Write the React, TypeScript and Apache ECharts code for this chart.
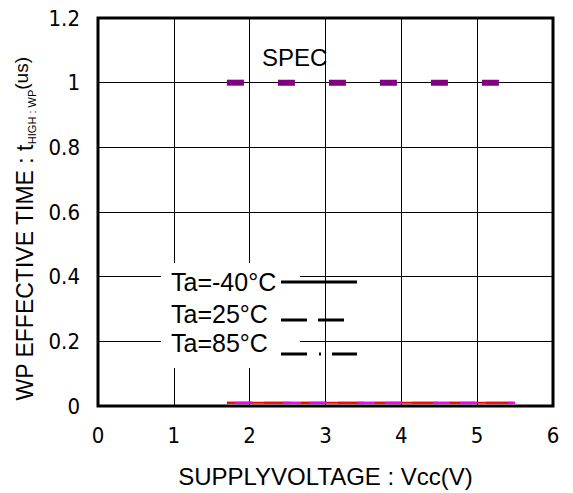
import React, { useEffect, useRef } from "react";
import * as echarts from "echarts";

const voltage = [1.7, 2.0, 2.5, 3.0, 3.5, 4.0, 4.5, 5.0, 5.5];
const timeM40 = [0.01, 0.01, 0.01, 0.01, 0.01, 0.01, 0.01, 0.01, 0.01];
const time25 = [0.01, 0.01, 0.01, 0.01, 0.01, 0.01, 0.01, 0.01, 0.01];
const time85 = [0.01, 0.01, 0.01, 0.01, 0.01, 0.01, 0.01, 0.01, 0.01];
const specVoltage = [1.7, 5.5];
const specTime = [1, 1];
const legendLabels = ["Ta=-40°C", "Ta=25°C", "Ta=85°C"];
const specLabel = "SPEC";
const xTitle = "SUPPLYVOLTAGE : Vcc(V)";

const BIG = "'Liberation Sans', Arial, sans-serif";
const NARROW = "'Liberation Sans Narrow', 'DejaVu Sans Condensed', 'Liberation Sans', sans-serif";

export default function App() {
  const ref = useRef<HTMLDivElement>(null);
  useEffect(() => {
    if (!ref.current) return;
    const chart = echarts.init(ref.current, undefined, { renderer: "svg" });
    const pair = (xs: number[], ys: number[]) => xs.map((x, i) => [x, ys[i]]);
    const legendRows = [
      { y: 282, dash: null as number[] | null, x2: 357 },
      { y: 320, dash: [26, 11], x2: 345 },
      { y: 354, dash: [26, 12, 2, 11], x2: 357 },
    ];
    const textY = [282, 314, 343];
    chart.setOption({
      animation: false,
      backgroundColor: "#fff",
      grid: {
        left: 98,
        right: 20,
        top: 18,
        bottom: 85,
        show: true,
        borderColor: "#000",
        borderWidth: 3,
      },
      xAxis: {
        type: "value",
        min: 0,
        max: 6,
        interval: 1,
        axisLine: { show: false },
        axisTick: { show: false },
        splitLine: { lineStyle: { color: "#000", width: 1 } },
        axisLabel: { color: "#000", fontFamily: NARROW, fontSize: 22, margin: 18 },
        name: xTitle,
        nameLocation: "middle",
        nameGap: 58,
        nameTextStyle: { color: "#000", fontFamily: BIG, fontSize: 24 },
      },
      yAxis: {
        type: "value",
        min: 0,
        max: 1.2,
        interval: 0.2,
        axisLine: { show: false },
        axisTick: { show: false },
        splitLine: { lineStyle: { color: "#000", width: 1 } },
        axisLabel: { color: "#000", fontFamily: NARROW, fontSize: 22, margin: 18 },
        name: "WP EFFECTIVE TIME : t{sub|HIGH : WP}{sup|(us)}",
        nameLocation: "middle",
        nameGap: 60,
        nameTextStyle: {
          color: "#000",
          fontFamily: BIG,
          fontSize: 23,
          lineHeight: 26,
          padding: [0, 34, 0, 0],
          rich: {
            sub: { fontFamily: BIG, fontSize: 11, lineHeight: 11, verticalAlign: "bottom", color: "#000" },
            sup: { fontFamily: BIG, fontSize: 19, lineHeight: 20, verticalAlign: "top", color: "#000" },
          },
        },
      },
      series: [
        {
          name: "SPEC",
          type: "line",
          data: pair(specVoltage, specTime),
          symbol: "none",
          lineStyle: { color: "#800080", width: 6, type: [17, 34], cap: "butt" },
          z: 5,
        },
        {
          name: legendLabels[0],
          type: "line",
          data: pair(voltage, timeM40),
          symbol: "none",
          lineStyle: { color: "#ff0000", width: 2 },
          z: 3,
        },
        {
          name: legendLabels[1],
          type: "line",
          data: pair(voltage, time25),
          symbol: "none",
          lineStyle: { color: "#ff0000", width: 2, type: [26, 11] },
          z: 4,
        },
        {
          name: legendLabels[2],
          type: "line",
          data: pair(voltage, time85),
          symbol: "none",
          lineStyle: { color: "#ff00ff", width: 2, type: [17, 10, 17, 31], dashOffset: 19 },
          z: 5,
        },
      ],
      graphic: [
        {
          type: "rect",
          z: 50,
          shape: { x: 161, y: 263, width: 139, height: 105 },
          style: { fill: "#fff" },
        },
        ...legendLabels.map((t, i) => ({
          type: "text",
          z: 60,
          x: 171,
          y: textY[i],
          style: { text: t, fill: "#000", font: `25px ${BIG}`, verticalAlign: "middle" },
        })),
        ...legendRows.map((r) => ({
          type: "line",
          z: 60,
          shape: { x1: 281, y1: r.y, x2: r.x2, y2: r.y },
          style: { stroke: "#000", lineWidth: 3, lineDash: r.dash || undefined },
        })),
        {
          type: "text",
          z: 60,
          x: 262,
          y: 57,
          style: { text: specLabel, fill: "#000", font: `24px ${BIG}`, verticalAlign: "middle" },
        },
      ],
    });
    return () => chart.dispose();
  }, []);
  return (
    <div
      ref={ref}
      style={{ position: "absolute", left: 0, top: 0, width: 573, height: 493, background: "#fff" }}
    />
  );
}
